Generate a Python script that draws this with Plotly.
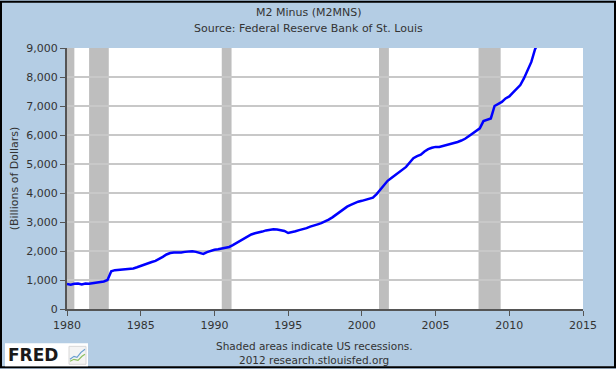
import plotly.graph_objects as go

# ---- data (quarterly estimates) ----
dates = []
for yr in range(1980, 2012):
    for m in ("01", "04", "07", "10"):
        dates.append(f"{yr}-{m}-01")
dates.append("2012-01-01")

values = [
    860, 840, 870, 880,
    850, 880, 870, 890,
    920, 930, 950, 1000,
    1300, 1340, 1350, 1370,
    1380, 1390, 1400, 1440,
    1490, 1530, 1580, 1620,
    1660, 1720, 1800, 1880,
    1930, 1950, 1940, 1950,
    1970, 1990, 1990, 1970,
    1930, 1900, 1960, 2010,
    2040, 2060, 2080, 2100,
    2140, 2200, 2270, 2350,
    2440, 2500, 2570, 2610,
    2630, 2670, 2710, 2730,
    2750, 2740, 2720, 2690,
    2620, 2640, 2680, 2720,
    2750, 2790, 2840, 2890,
    2920, 2960, 3010, 3080,
    3160, 3250, 3340, 3440,
    3530, 3590, 3650, 3700,
    3730, 3770, 3800, 3840,
    3960, 4110, 4260, 4420,
    4520, 4610, 4690, 4790,
    4900, 5050, 5200, 5270,
    5320, 5430, 5510, 5560,
    5590, 5590, 5620, 5650,
    5690, 5730, 5760, 5810,
    5870, 5960, 6060, 6160,
    6230, 6480, 6520, 6570,
    7000, 7080, 7140, 7260,
    7330, 7460, 7590, 7720,
    7960, 8210, 8520, 8960,
    9200,
]

recessions = [
    ("1980-01-01", "1980-07-01"),
    ("1981-07-01", "1982-11-01"),
    ("1990-07-01", "1991-03-01"),
    ("2001-03-01", "2001-11-01"),
    ("2007-12-01", "2009-06-01"),
]

x_ticks = ["1980-01-01", "1985-01-01", "1990-01-01", "1995-01-01",
           "2000-01-01", "2005-01-01", "2010-01-01", "2015-01-01"]
x_tick_labels = ["1980", "1985", "1990", "1995", "2000", "2005", "2010", "2015"]
y_ticks = [0, 1000, 2000, 3000, 4000, 5000, 6000, 7000, 8000, 9000]
y_tick_labels = ["0", "1,000", "2,000", "3,000", "4,000", "5,000",
                 "6,000", "7,000", "8,000", "9,000"]

BG = "#B4CDE4"
FONT = "DejaVu Sans"
TXT = "#333333"

fig = go.Figure()
fig.add_trace(go.Scatter(x=dates, y=values, mode="lines",
                         line=dict(color="#0000FF", width=2.5),
                         hoverinfo="skip", showlegend=False))

shapes = []
for s, e in recessions:
    shapes.append(dict(type="rect", xref="x", yref="paper", x0=s, x1=e,
                       y0=0, y1=1, fillcolor="#BEBEBE", line=dict(width=0),
                       layer="between"))

W, H = 616, 369
L, R, T, B = 67, 33, 47.5, 59.5
pw, ph = W - L - R, H - T - B
def px(xp):
    return (xp - L) / pw
def py(yp):
    return (H - B - yp) / ph

# outer border
shapes.append(dict(type="rect", xref="paper", yref="paper",
                   x0=px(1), x1=px(W - 1), y0=py(H - 1), y1=py(1),
                   line=dict(color="black", width=2), fillcolor="rgba(0,0,0,0)",
                   layer="above"))
# FRED logo box
shapes.append(dict(type="rect", xref="paper", yref="paper",
                   x0=px(5), x1=px(88), y0=py(367), y1=py(344),
                   line=dict(width=0), fillcolor="white", layer="above"))
# small icon
shapes.append(dict(type="rect", xref="paper", yref="paper",
                   x0=px(69), x1=px(86), y0=py(365), y1=py(347),
                   line=dict(color="#D8D8D8", width=1), fillcolor="#F4F4F4", layer="above"))
shapes.append(dict(type="path", xref="paper", yref="paper",
                   path=f"M {px(70)},{py(360)} L {px(74)},{py(357)} L {px(77)},{py(358)} L {px(81)},{py(353)} L {px(85)},{py(350)}",
                   line=dict(color="#6A9FD0", width=1.2), layer="above"))
shapes.append(dict(type="path", xref="paper", yref="paper",
                   path=f"M {px(70)},{py(362)} L {px(74)},{py(360)} L {px(78)},{py(361)} L {px(82)},{py(357)} L {px(85)},{py(355)}",
                   line=dict(color="#8CC060", width=1.2), layer="above"))

annotations = [
    dict(text="M2 Minus (M2MNS)", xref="paper", yref="paper", x=px(308), y=py(12),
         showarrow=False, font=dict(family=FONT, size=11, color=TXT), xanchor="center", yanchor="middle"),
    dict(text="Source: Federal Reserve Bank of St. Louis", xref="paper", yref="paper", x=px(308), y=py(28),
         showarrow=False, font=dict(family=FONT, size=11, color=TXT), xanchor="center", yanchor="middle"),
    dict(text="Shaded areas indicate US recessions.", xref="paper", yref="paper", x=px(314), y=py(346.5),
         showarrow=False, font=dict(family=FONT, size=10.5, color=TXT), xanchor="center", yanchor="middle"),
    dict(text="2012 research.stlouisfed.org", xref="paper", yref="paper", x=px(314), y=py(360.5),
         showarrow=False, font=dict(family=FONT, size=10.5, color=TXT), xanchor="center", yanchor="middle"),
    dict(text="<b>FRED</b>", xref="paper", yref="paper", x=px(6), y=py(355.5),
         showarrow=False, font=dict(family="DejaVu Sans", size=17, color="#1a1a1a"),
         xanchor="left", yanchor="middle"),
]

fig.update_layout(
    width=W, height=H,
    margin=dict(l=L, r=R, t=T, b=B, pad=0),
    paper_bgcolor=BG, plot_bgcolor="white",
    font=dict(family=FONT, size=11, color=TXT),
    shapes=shapes, annotations=annotations,
    xaxis=dict(type="date", range=["1980-01-01", "2015-01-01"],
               tickvals=x_ticks, ticktext=x_tick_labels,
               showgrid=False, zeroline=False,
               showline=True, linecolor="#555555", linewidth=2,
               ticks="outside", ticklen=5, tickcolor="#555555", tickwidth=1,
               tickfont=dict(family=FONT, size=11, color=TXT)),
    yaxis=dict(range=[0, 9000], tickvals=y_ticks, ticktext=y_tick_labels,
               showgrid=True, gridcolor="#C8C8C8", gridwidth=1.5, zeroline=False,
               showline=True, linecolor="#555555", linewidth=2,
               ticks="outside", ticklen=5, tickcolor="#555555", tickwidth=1,
               tickfont=dict(family=FONT, size=11, color=TXT),
               title=dict(text="(Billions of Dollars)", standoff=5,
                          font=dict(family=FONT, size=11, color=TXT))),
)

fig.write_html("out.html", config={"displayModeBar": False},
               post_script="document.body.style.margin='0';document.body.style.overflow='hidden';")
